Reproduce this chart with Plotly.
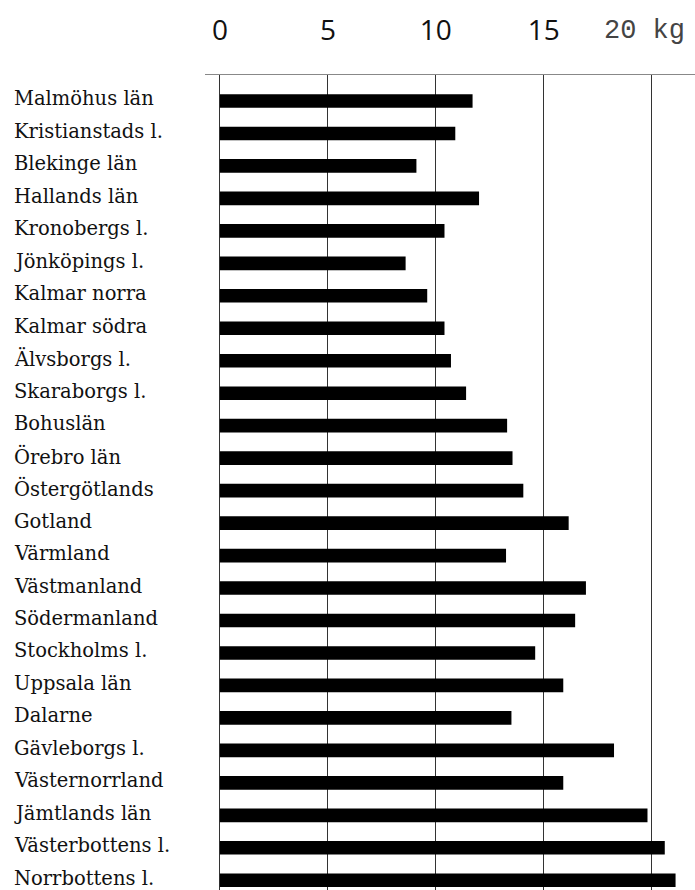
import plotly.graph_objects as go

counties = ["Malmöhus län", "Kristianstads l.", "Blekinge län", "Hallands län",
            "Kronobergs l.", "Jönköpings l.", "Kalmar norra", "Kalmar södra",
            "Älvsborgs l.", "Skaraborgs l.", "Bohuslän", "Örebro län",
            "Östergötlands", "Gotland", "Värmland", "Västmanland",
            "Södermanland", "Stockholms l.", "Uppsala län", "Dalarne",
            "Gävleborgs l.", "Västernorrland", "Jämtlands län",
            "Västerbottens l.", "Norrbottens l."]
kg = [11.7, 10.9, 9.1, 12.0, 10.4, 8.6, 9.6, 10.4, 10.7, 11.4, 13.3, 13.55,
      14.05, 16.15, 13.25, 16.95, 16.45, 14.6, 15.9, 13.5, 18.25, 15.9,
      19.8, 20.6, 21.1]
tick_vals = [0, 5, 10, 15, 20]
tick_text = ["0", "5", "10", "15", ""]
unit_label = "20 kg"

fig = go.Figure()
fig.add_trace(go.Bar(
    x=kg, y=counties, orientation="h",
    marker=dict(color="#000000", line=dict(width=0)),
    width=0.42,
))

for name in counties:
    fig.add_annotation(
        x=-0.394, xref="paper", y=name, yref="y", yshift=2,
        text=name, showarrow=False, xanchor="left", yanchor="middle",
        font=dict(family="DejaVu Serif", size=19.5, color="#111"),
    )

fig.add_annotation(
    x=tick_vals[-1], xref="x", y=1, yref="paper", yshift=44,
    text=unit_label, showarrow=False, xanchor="center", yanchor="middle",
    xshift=-7,
    font=dict(family="Liberation Mono", size=27, color="#444"),
)

fig.update_layout(
    width=695, height=890,
    margin=dict(l=205, r=0, t=75, b=0),
    paper_bgcolor="white", plot_bgcolor="white",
    showlegend=False,
    xaxis=dict(
        side="top", range=[-0.69, 22.0], automargin=False,
        tickvals=tick_vals, ticktext=tick_text,
        showgrid=True, gridcolor="#333", gridwidth=1,
        zeroline=False,
        showline=True, linecolor="#888", linewidth=1,
        ticks="outside", ticklen=23, tickcolor="rgba(0,0,0,0)",
        tickfont=dict(family="Open Sans", size=28, color="#111"),
    ),
    yaxis=dict(
        categoryorder="array", categoryarray=counties,
        range=[24.3, -0.8], automargin=False,
        showticklabels=False, showgrid=False, zeroline=False,
        showline=False, ticks="",
    ),
)

fig.write_html("out.html", config={"displayModeBar": False},
               post_script="document.body.style.margin='0';document.body.style.overflow='hidden';")
